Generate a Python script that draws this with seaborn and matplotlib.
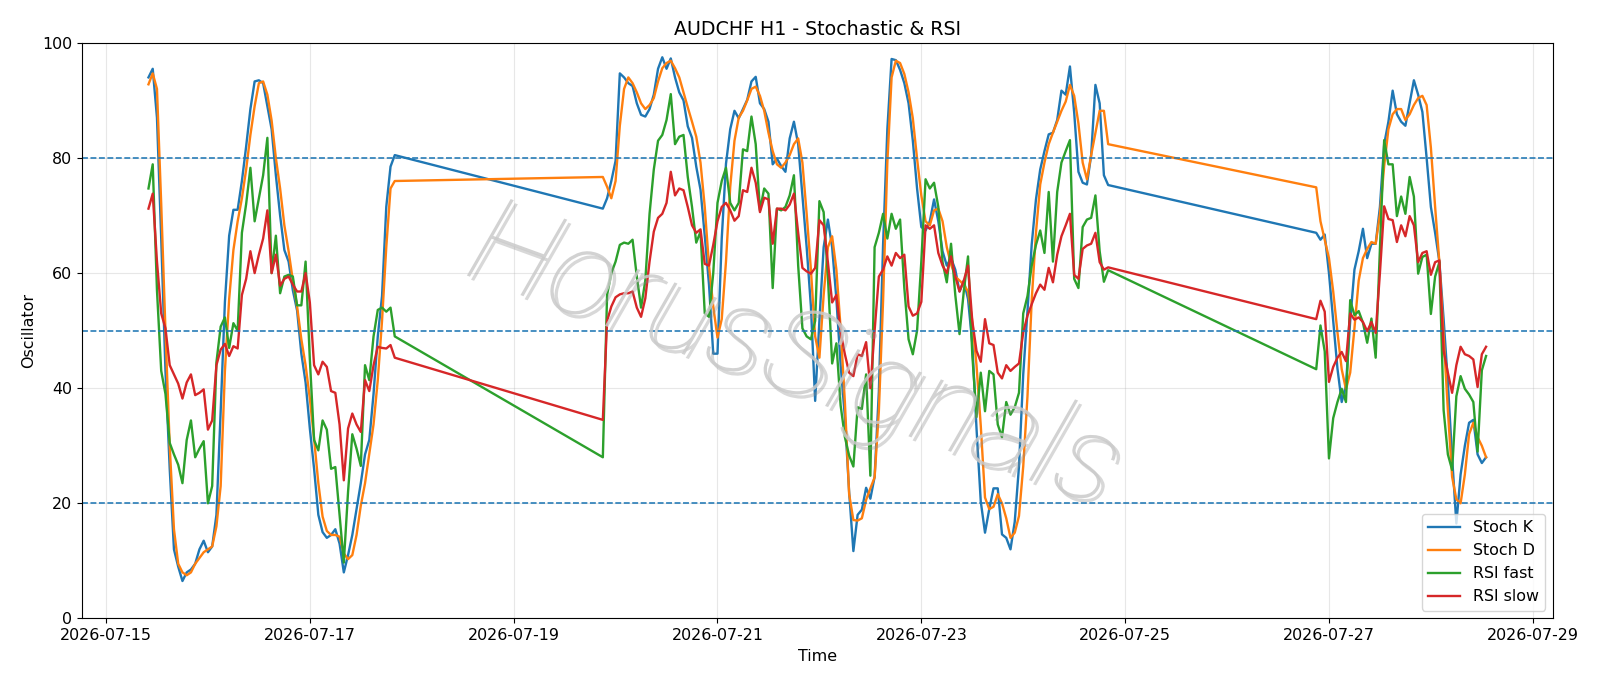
import numpy as np
import pandas as pd
import matplotlib
matplotlib.use("Agg")
import matplotlib.pyplot as plt
import matplotlib.dates as mdates
import matplotlib.patheffects as pe
import seaborn as sns

# trading sessions (start, number of hourly bars)
sessions = [("2026-07-15 10:00", 59), ("2026-07-19 21:00", 120), ("2026-07-26 21:00", 41)]

stoch_k = [
    # session 1
    94, 95.5, 87, 66, 43, 26, 12, 9, 6.5, 8,
    8.5, 9.5, 12, 13.5, 11.5, 12.5, 18, 36, 55, 66.5,
    71, 71, 76, 82, 88.5, 93.3, 93.5, 93, 89, 85,
    77, 70, 64, 62, 57, 53.5, 46, 41, 33, 26,
    18, 15, 14, 14.5, 15.5, 13, 8, 11, 14.5, 19,
    23.5, 28.5, 31, 39, 49, 56, 71.5, 78.5, 80.5,
    # session 2
    71.2, 73, 76, 79.5, 94.7, 94, 93, 92.5, 89.5, 87.5,
    87.2, 88.5, 91, 95.5, 97.5, 95.5, 97.3, 94, 91.4, 90,
    85.5, 83.5, 78.5, 74.5, 66.5, 58, 46, 46, 66, 79,
    85, 88.2, 86.9, 88.5, 90.1, 93.3, 94.1, 89.5, 88.5, 86.3,
    78.9, 79.9, 78.6, 77.6, 83.4, 86.3, 82.4, 73.5, 64.5, 54.2,
    37.8, 51.7, 64.5, 69.3, 64.5, 55.5, 44, 35, 22, 11.7,
    18, 18.9, 22.7, 20.8, 24.6, 39.4, 65, 85, 97.2, 97,
    95.3, 93, 89.5, 83, 74.7, 68, 67.4, 69, 72.8, 69,
    63.8, 61.3, 62.6, 60.6, 56.8, 58.7, 55.5, 47.8, 33, 20.3,
    14.9, 19, 22.6, 22.6, 14.6, 14, 12, 16.8, 26.4, 42.4,
    53.4, 65, 72.8, 78, 81.2, 84.1, 84.4, 86.6, 91.7, 91,
    95.9, 87.9, 77.6, 75.7, 75.4, 80.5, 92.7, 89.5, 77, 75.3,
    # session 3
    67, 65.8, 66.7, 60, 51.7, 43.4, 37.6, 40.5, 51.7, 60.6,
    63.8, 67.7, 62.6, 65.1, 65.1, 71.5, 82.4, 86.3, 91.7, 87.6,
    86.3, 85.6, 89.5, 93.5, 91, 88, 80, 71.5, 67, 62,
    52, 41, 28, 16.5, 25, 30, 34, 34.5, 28.5, 27,
    28,
]

stoch_d = [
    92.8, 94.7, 92, 72, 50, 30, 15.5, 9.5, 8, 7.5,
    8, 9.5, 10.5, 11.5, 12, 12.5, 16, 23, 43, 55.5,
    64, 69, 73, 78, 84, 89, 93, 93.3, 91, 86.5,
    80, 74.7, 68.3, 63.8, 58.7, 54.2, 48.5, 44, 38.2, 31.2,
    23.5, 17.7, 15.2, 14.5, 14.5, 14.2, 11.3, 10.3, 11, 14.5,
    19.6, 23.5, 28.6, 33.7, 41.4, 51.7, 64.5, 74.7, 76,
    76.7, 75, 73, 76, 85.6, 92, 94, 93, 91.4, 89.5,
    88.5, 89.2, 90.4, 93.3, 95.6, 96.5, 96.9, 95.6, 94, 91.4,
    88.8, 86.3, 83.7, 79.2, 71.5, 61.3, 54.2, 48.8, 52, 62,
    75, 83, 87, 88.2, 90, 92, 92.4, 90.8, 88.2, 84.4,
    81.2, 78.9, 78.3, 79.2, 80.5, 82.4, 83.4, 79.2, 70.3, 60.6,
    49, 45.3, 56.2, 64.5, 66.4, 60.6, 50.4, 37.6, 21.6, 17.1,
    17, 17.4, 20.6, 22.6, 24.5, 36, 55.3, 79.2, 94, 96.9,
    96.5, 94.6, 91.4, 86.9, 79.9, 73.5, 69, 68.3, 70.9, 71.2,
    69, 64.5, 61.5, 59.4, 58.7, 58, 56.8, 51.7, 44, 33.5,
    21, 19, 19.4, 21.6, 20, 17.4, 14, 14.9, 17.8, 26.4,
    38.6, 55.3, 67, 75.4, 79.2, 82.4, 84.4, 86.3, 88.2, 89.8,
    92.7, 90.8, 86, 79.2, 76.3, 80.5, 84.4, 88.2, 88.2, 82.4,
    74.9, 69, 65.8, 62.6, 56.8, 49.7, 43.3, 39.8, 42.7, 50.4,
    58.7, 62.6, 64.2, 65.4, 65.1, 70.2, 78.6, 85, 87.6, 88.5,
    88.5, 86.6, 87.6, 89.2, 90.4, 90.8, 89.2, 81.8, 71.5, 61.9,
    49, 36.2, 24.6, 20.7, 20, 25, 32, 34, 31.5, 30,
    28,
]

rsi_fast = [
    74.7, 78.9, 57, 43, 39, 30.5, 28.5, 26.7, 23.5, 31,
    34.4, 28, 29.5, 30.8, 20, 23, 44.5, 50.7, 52.3, 47,
    51.3, 50, 67, 72, 78.3, 69, 73, 77, 83.5, 60,
    66.5, 56.5, 59.4, 59.7, 59.4, 54.4, 54.4, 62, 45, 31,
    29.2, 34.4, 32.8, 26, 26.3, 18, 9.7, 22, 32, 29.5,
    26.5, 44, 41.4, 49, 53.6, 54, 53.3, 54, 49,
    28, 56.2, 60, 62, 64.9, 65.3, 65.1, 65.8, 59.4, 54,
    58.7, 70.3, 78, 83, 84, 86.6, 91.1, 82.4, 83.7, 84,
    76.7, 71.5, 65.3, 67.2, 53, 52.4, 60, 72.2, 76, 78.3,
    72.2, 70.9, 72.2, 81.5, 81.2, 87.2, 82.4, 70.9, 74.7, 73.8,
    57.4, 71.2, 70.9, 71.5, 73.5, 77, 61.3, 50.4, 49, 48.5,
    51.7, 72.5, 70.6, 59.4, 44.3, 47.8, 37, 31.5, 28.3, 26.4,
    36.7, 36.4, 42.4, 24.8, 64.5, 67, 70.3, 66, 70.3, 67.7,
    69.3, 57.4, 48.5, 45.9, 50, 62, 76.3, 74.7, 75.7, 71.5,
    61.9, 58.4, 65.1, 56.2, 49.4, 56.8, 62.9, 45.9, 35, 42.7,
    36, 43, 42.4, 33.7, 31.5, 37.6, 35.4, 36.7, 39.2, 53,
    56, 61.3, 64.9, 67.4, 63.5, 74.1, 62, 74.1, 79.2, 81.2,
    83.1, 59, 57.4, 68, 69.3, 69.6, 73.5, 63.8, 58.5, 60.5,
    43.3, 50.9, 46.4, 27.8, 34.8, 37.6, 39.9, 37.6, 55.3, 52.7,
    53.4, 51.4, 47.9, 52.1, 45.3, 64, 83.1, 78.9, 78.9, 69.9,
    73.3, 70.3, 76.7, 73.3, 59.9, 62.8, 63.2, 52.9, 59.4, 61.9,
    36.2, 28.5, 25.8, 38.6, 42.1, 39.9, 38.9, 37.6, 29, 43.1,
    45.6,
]

rsi_slow = [
    71.2, 73.8, 62, 53, 50.4, 44, 42.4, 40.8, 38.2, 41,
    42.4, 38.8, 39.2, 39.8, 32.8, 34.4, 44, 46.7, 47.7, 45.6,
    47.3, 46.9, 56.2, 59, 63.8, 60, 63.2, 66, 70.9, 60,
    63.2, 57.8, 59, 59.4, 58, 56.8, 56.8, 60, 54.9, 44,
    42.4, 44.6, 43.7, 39.5, 39.2, 33.7, 24, 33, 35.6, 33.7,
    32.4, 41.4, 39.5, 44, 47.2, 47, 46.9, 47.5, 45.3,
    34.5, 51.7, 54.2, 55.8, 56.3, 56.5, 56.5, 56.8, 54, 52.4,
    55.6, 62, 67.2, 69.6, 70.3, 72.2, 77.6, 73.5, 74.7, 74.4,
    71.5, 68.3, 67, 67.6, 61.6, 61.3, 64.9, 69, 71.5, 72.2,
    70.9, 69.1, 69.9, 74.4, 74.1, 78.3, 75.7, 70.6, 73.1, 72.8,
    65.1, 71.2, 71.2, 70.9, 71.9, 73.8, 67, 60.9, 60.3, 59.9,
    60.9, 69.2, 68.3, 61.9, 54.9, 56.2, 49.7, 45.9, 42.7, 42.1,
    45.9, 45.6, 48, 40, 50, 59.4, 60.6, 62.9, 61.3, 63.5,
    62.6, 63.2, 54.2, 52.6, 53, 55, 68.3, 67.7, 68.3, 63.5,
    61.3, 60, 62.9, 59.4, 56.8, 58.7, 61.3, 51.7, 46.5, 44.6,
    52, 47.8, 47.5, 42.7, 41.7, 44, 43, 43.7, 44.3, 49.7,
    52.6, 54.6, 56.5, 58, 57.1, 60.9, 58.4, 63.2, 66.4, 68.3,
    70.3, 59.7, 59, 64.2, 64.8, 65.1, 67, 61.9, 60.6, 61,
    52, 55.2, 53.3, 41.1, 43.7, 45.3, 46.3, 44.7, 53, 51.9,
    52.3, 51.5, 49.9, 51.5, 49.6, 60, 71.6, 69.4, 69.2, 65.4,
    68.3, 66.4, 69.9, 68.3, 61.9, 63.5, 63.8, 59.7, 61.9, 62.2,
    46.5, 42.7, 39.2, 44, 47.2, 45.9, 45.6, 45, 40.2, 45.9,
    47.2,
]

series_names = ["Stoch K", "Stoch D", "RSI fast", "RSI slow"]
levels = [80, 50, 20]

times = pd.DatetimeIndex(np.concatenate([
    pd.date_range(start, periods=n, freq="h").values for start, n in sessions
]))

plt.rcParams["font.size"] = 11.4
fig, ax = plt.subplots(figsize=(16, 6.86), dpi=100)
fig.subplots_adjust(left=0.051, right=0.9706, top=0.9375, bottom=0.0985)

colors = ["C0", "C1", "C2", "C3"]
for name, vals, c in zip(series_names, [stoch_k, stoch_d, rsi_fast, rsi_slow], colors):
    sns.lineplot(x=times, y=vals, ax=ax, label=name, color=c, lw=1.7)

for lv in levels:
    ax.axhline(lv, ls="--", color="C0", lw=1.15)

ax.set_ylim(0, 100)
ax.xaxis.set_major_locator(mdates.DayLocator(bymonthday=range(1, 32, 2)))
ax.xaxis.set_major_formatter(mdates.DateFormatter("%Y-%m-%d"))
ax.grid(True, alpha=0.3)
ax.set_title("AUDCHF H1 - Stochastic & RSI", fontsize=13.7)
ax.set_xlabel("Time")
ax.set_ylabel("Oscillator")
ax.legend(loc="lower right")

# watermark: thin light-grey text with soft shadow
ax.text(0.484, 0.45, "HorusSignals", transform=ax.transAxes, fontsize=88,
        family=["Roboto", "DejaVu Sans"], weight="light", style="italic",
        color="#cacaca", alpha=0.85, rotation=-20,
        ha="center", va="center", rotation_mode="anchor", zorder=10,
        path_effects=[pe.withSimplePatchShadow(offset=(3, -3), shadow_rgbFace="#909090", alpha=0.35)])

fig.savefig("out.png", dpi=100)
